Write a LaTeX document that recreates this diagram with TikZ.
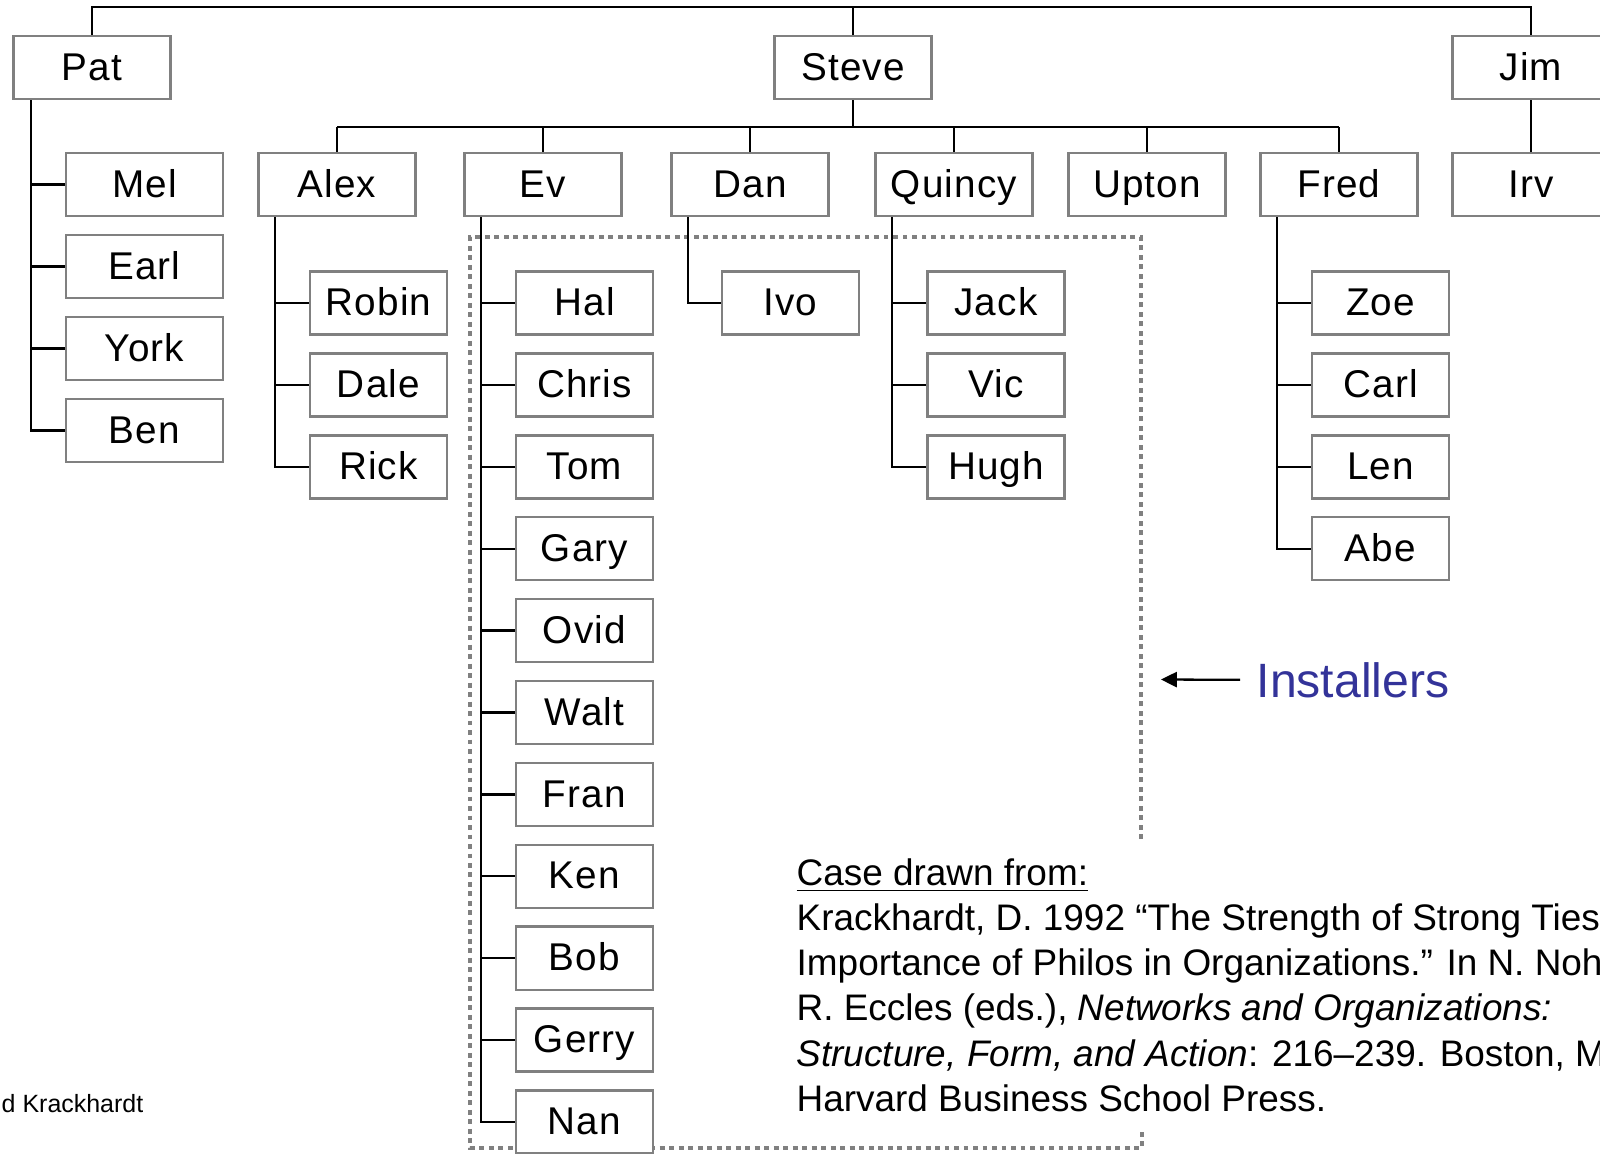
\documentclass[tikz,border=0pt]{standalone}
\usepackage{fontspec}
\setmainfont{Liberation Sans}
\newfontfamily\namefont[LetterSpace=3]{Liberation Sans}
\usepackage{tikz}
\usetikzlibrary{arrows.meta,positioning,calc}
\usepackage{xcolor}
\definecolor{boxgray}{RGB}{128,128,128}
\definecolor{installblue}{RGB}{51,51,153}

\tikzset{
  person/.style={draw=boxgray, line width=0.7pt, fill=white, minimum height=0.63cm,
    text height=0.72em, text depth=0pt, inner sep=0pt,
    font=\namefont\fontsize{11}{13}\selectfont},
  boss/.style={person, minimum width=1.57cm},
  staff/.style={person, minimum width=1.37cm},
  link/.style={line width=0.65pt, black},
  group/.style={draw=boxgray, line width=1.1pt, dash pattern=on 1.4pt off 1.3pt},
  cite/.style={anchor=base west, inner sep=0pt, font=\fontsize{10.5}{12}\selectfont},
}

\begin{document}
\begin{tikzpicture}[x=0.01cm, y=-0.01cm]
    \useasboundingbox (0,0) rectangle (1600,1153);
    \clip (0,0) rectangle (1600,1153);
    % Installers group
    \draw[group] (1141,839) -- (1141,237) -- (470,237) -- (470,1148) -- (1142,1148) -- (1142,1132);
    % Top level
    \node[boss] (Pat) at (92,67.5) {Pat};
    \node[boss] (Steve) at (853,67.5) {Steve};
    \node[boss] (Jim) at (1531,67.5) {Jim};
    \coordinate (tbar) at ([yshift=0.28cm]Steve.north);
    \draw[link] (Pat.north) |- (tbar) -| (Jim.north);
    \draw[link] (tbar) -- (Steve.north);
    % Pat's people
    \foreach \nm [count=\i from 0] in {Mel,Earl,York,Ben} {
        \node[boss] (\nm) at (144.5,184.5+82*\i) {\nm};
    }
    \coordinate (Pat-trunk) at ([xshift=0.19cm]Pat.south west);
    \foreach \nm in {Mel,Earl,York,Ben} {
        \draw[link] (Pat-trunk) |- (\nm.west);
    }
    % Steve's managers
    \foreach \nm/\x in {Alex/337,Ev/543,Dan/750,Quincy/954,Upton/1147,Fred/1339} {
        \node[boss] (\nm) at (\x,184.5) {\nm};
    }
    \coordinate (sbar) at ([yshift=-0.27cm]Steve.south);
    \draw[link] (Steve.south) -- (sbar);
    \draw[link] (Alex.north |- sbar) -- (Fred.north |- sbar);
    \foreach \nm in {Alex,Ev,Dan,Quincy,Upton,Fred} {
        \draw[link] (\nm.north |- sbar) -- (\nm.north);
    }
    % Jim's person
    \node[boss] (Irv) at (1531,184.5) {Irv};
    \draw[link] (Jim.south) -- (Irv.north);
    % Third level
    \foreach \boss/\x/\kids in {Alex/378.5/{Robin,Dale,Rick},
            Ev/584.5/{Hal,Chris,Tom,Gary,Ovid,Walt,Fran,Ken,Bob,Gerry,Nan},
            Dan/790.5/{Ivo}, Quincy/996/{Jack,Vic,Hugh}, Fred/1380.5/{Zoe,Carl,Len,Abe}} {
        \coordinate (\boss-trunk) at ([xshift=0.18cm]\boss.south west);
        \foreach \nm [count=\i from 0] in \kids {
            \node[staff] (\nm) at (\x,303+81.9*\i) {\nm};
            \draw[link] (\boss-trunk) |- (\nm.west);
        }
    }
    % Label
    \node[anchor=base west, inner sep=0pt, text=installblue,
          font=\fontsize{13.7}{16}\selectfont] (installers) at (1256,697) {Installers};
    \coordinate (arrowtip) at (1161,679.5);
    \draw[link, -{Triangle[length=4.5pt,width=4.3pt]}] ([xshift=-0.16cm]installers.west) -- (arrowtip);
    % Source
    \node[cite] (cite1) at (796,885) {\underline{Case drawn from:}};
    \node[cite] (cite2) at (796,930) {Krackhardt, D. 1992 “The Strength of Strong Ties:};
    \node[cite] (cite3) at (796,975.5) {Importance of Philos in Organizations.” In N. Nohria};
    \node[cite] (cite4) at (796,1020.5) {R. Eccles (eds.), \textit{Networks and Organizations:}};
    \node[cite] (cite5) at (796,1066) {\textit{Structure, Form, and Action}: 216–239. Boston, MA:};
    \node[cite] (cite6) at (796,1111) {Harvard Business School Press.};
    \node[anchor=base east, inner sep=0pt, font=\fontsize{7.1}{8}\selectfont] (footer) at (144,1112) {d Krackhardt};
\end{tikzpicture}
\end{document}
